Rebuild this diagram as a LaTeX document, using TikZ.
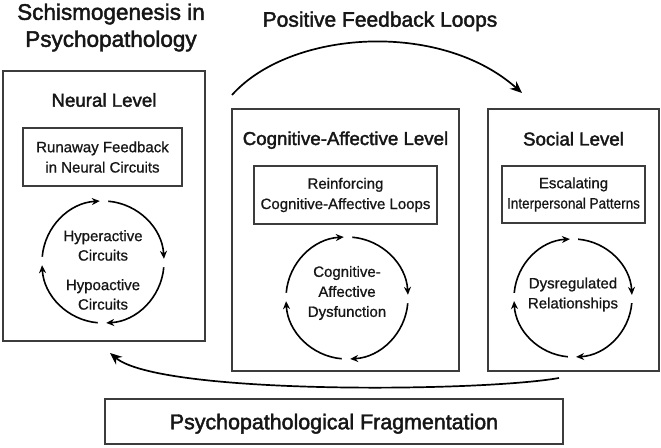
\documentclass[tikz,border=0pt]{standalone}
\usepackage{fontspec}
\setmainfont[FakeBold=0.8]{Liberation Sans}
\newfontfamily\medfont[FakeBold=2]{Liberation Sans}
\usetikzlibrary{arrows.meta}
\definecolor{boxgray}{HTML}{3C3C3C}
\definecolor{ink}{HTML}{161616}
\newcommand\cycleloop[2]{%
  \foreach \a in {0,90,180,270}{%
    \draw[looparrow,shift={(#1)}] (\a+85:#2) arc[start angle=\a+85,end angle=\a+3,radius=#2];}}
\begin{document}
\begin{tikzpicture}[x=1pt,y=1pt,
  box/.style={draw=boxgray,line width=1.3pt,inner sep=0pt,text=ink},
  inner/.style={box,align=center,font=\fontsize{15}{20.3}\selectfont},
  head/.style={anchor=base,text=ink,font=\medfont\fontsize{18.7}{22}\selectfont},
  ctext/.style={align=center,text=ink,inner sep=0pt,font=\fontsize{15}{19.5}\selectfont},
  looparrow/.style={draw=black,line width=1.6pt,-{Stealth[length=8pt,width=7pt]}},
  bigarrow/.style={draw=black,line width=1.7pt,-{Stealth[length=12pt,width=10pt]}}]
\useasboundingbox (0,0) rectangle (661,447);

% title
\node[align=center,text=ink,inner sep=0pt,font=\medfont\fontsize{22.5}{27}\selectfont] (title) at (111,419.5) {Schismogenesis in\\Psychopathology};
\node[head,font=\medfont\fontsize{21}{24}\selectfont] (pfl) at (380,420.3) {Positive Feedback Loops};

% level boxes
\node[box,minimum width=202,minimum height=270] (neural) at (104,241) {};
\node[box,minimum width=227,minimum height=262] (cog) at (345.5,207) {};
\node[box,minimum width=171,minimum height=262] (social) at (573.5,207) {};

% headings
\node[head] (hneural) at (104,340.3) {Neural Level};
\node[head] (hcog) at (345.5,302) {Cognitive-Affective Level};
\node[head] (hsocial) at (573.5,301.5) {Social Level};

% inner boxes
\node[inner,minimum width=159,minimum height=58] (runaway) at (102.5,290) {Runaway Feedback\\in Neural Circuits};
\node[inner,minimum width=183,minimum height=58] (reinforce) at (345.5,252) {Reinforcing\\Cognitive-Affective Loops};
\node[inner,minimum width=143,minimum height=57] (escalate) at (573.5,252.5) {Escalating\\\scalebox{0.9}[1]{Interpersonal Patterns}};

% cycles
\coordinate (cneural) at (103,185);
\coordinate (ccog) at (347,149);
\coordinate (csocial) at (573,149);
\cycleloop{cneural}{61}
\cycleloop{ccog}{61}
\cycleloop{csocial}{59}

\node[ctext] (hyper) at (103,201.5) {Hyperactive\\Circuits};
\node[ctext] (hypo) at (103,152.5) {Hypoactive\\Circuits};
\node[ctext,font=\fontsize{15}{20}\selectfont] (cad) at (347,154) {Cognitive-\\Affective\\Dysfunction};
\node[ctext,font=\fontsize{15}{20}\selectfont] (dysreg) at (573,152.5) {Dysregulated\\Relationships};

% bottom box
\node[box,minimum width=458,minimum height=45,text depth=0pt,font=\medfont\fontsize{21.4}{24}\selectfont] (frag) at (334,25.5) {Psychopathological Fragmentation};

% big arrows
\coordinate (tstart) at (232,352);
\coordinate (tend) at (522,354);
\draw[bigarrow] (tstart) .. controls (290,417) and (440,427) .. (tend);
\coordinate (bstart) at (559,69);
\coordinate (bend) at (110,94);
\draw[bigarrow] (bstart) .. controls (480,55) and (160,52) .. (bend);
\end{tikzpicture}
\end{document}
